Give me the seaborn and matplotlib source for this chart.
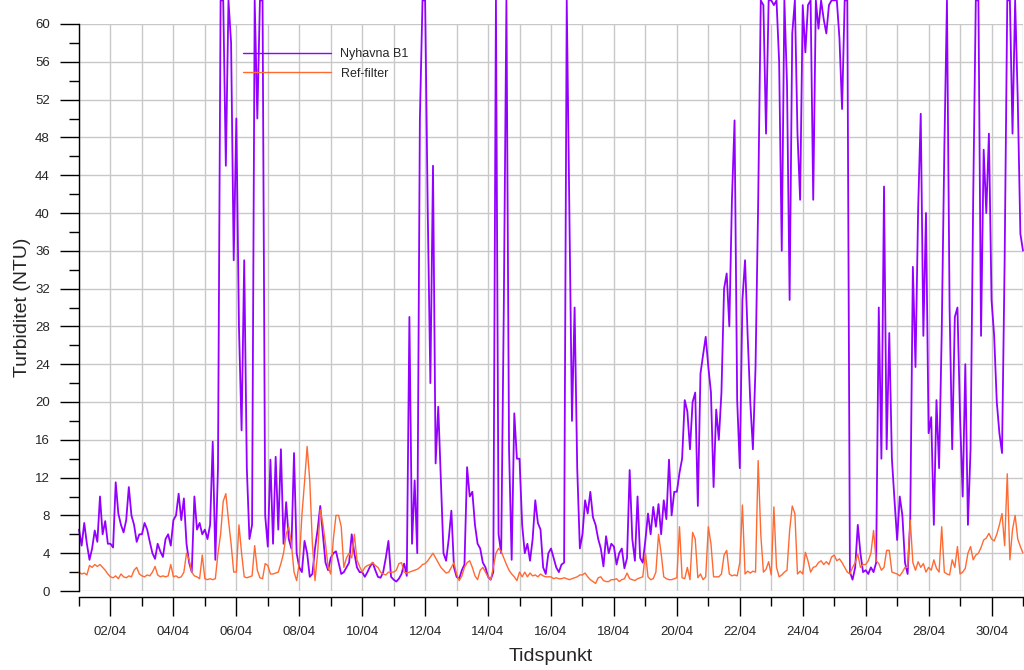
import matplotlib
matplotlib.use("Agg")
import matplotlib.pyplot as plt
import matplotlib.dates as mdates
import matplotlib.ticker as mticker
import pandas as pd
import seaborn as sns

# ---- data: 2-hourly readings, one list of 12 values per day (01/04 ... 30/04) ----
nyhavna_days = [
    [6.5, 4.8, 7.2, 5.0, 3.3, 4.5, 6.4, 5.2, 10.0, 6.0, 7.4, 5.0],
    [5.0, 4.6, 11.5, 8.2, 7.0, 6.2, 7.5, 11.0, 8.0, 7.0, 5.2, 6.0],
    [6.0, 7.2, 6.5, 5.2, 4.0, 3.4, 5.0, 4.2, 3.6, 5.5, 6.0, 4.8],
    [7.5, 8.0, 10.3, 7.5, 9.8, 5.0, 3.0, 2.0, 10.0, 6.5, 7.2, 6.0],
    [6.5, 5.5, 7.0, 15.8, 3.3, 13.0, 62.5, 62.5, 45.0, 62.5, 58.0, 35.0],
    [50.0, 28.0, 17.0, 35.0, 13.0, 5.5, 7.0, 62.5, 50.0, 62.5, 62.5, 8.0],
    [4.7, 13.9, 5.0, 14.2, 6.5, 15.0, 5.0, 9.4, 5.5, 4.5, 14.6, 4.0],
    [2.5, 2.0, 5.3, 4.0, 1.5, 1.8, 4.5, 6.5, 9.0, 6.0, 3.0, 2.2],
    [3.5, 4.0, 4.2, 3.0, 1.8, 2.0, 2.5, 3.0, 6.0, 4.0, 2.5, 2.0],
    [2.0, 1.5, 2.0, 2.6, 3.0, 2.2, 1.5, 1.4, 2.0, 3.5, 5.3, 1.5],
    [1.2, 1.0, 1.3, 1.8, 2.9, 1.6, 29.0, 5.0, 11.7, 4.0, 50.0, 62.5],
    [62.5, 40.0, 22.0, 45.0, 13.5, 19.5, 11.7, 4.0, 3.2, 5.5, 8.5, 2.5],
    [1.5, 1.3, 2.2, 2.8, 13.1, 10.0, 10.5, 7.0, 5.0, 4.5, 3.0, 2.5],
    [1.5, 1.2, 2.0, 62.5, 6.0, 4.0, 30.0, 62.5, 15.0, 3.3, 18.8, 14.0],
    [14.0, 7.0, 4.0, 5.0, 3.2, 5.5, 9.6, 7.2, 6.5, 2.5, 1.8, 4.0],
    [4.5, 3.5, 2.5, 2.0, 2.8, 3.0, 62.5, 40.0, 18.0, 30.0, 13.0, 4.5],
    [6.0, 9.6, 8.2, 10.5, 7.8, 7.0, 5.5, 4.5, 2.6, 5.8, 4.0, 5.0],
    [4.7, 2.8, 4.0, 4.5, 2.4, 3.5, 12.8, 5.5, 3.2, 10.0, 3.5, 3.0],
    [5.4, 8.2, 6.0, 8.9, 6.8, 9.2, 6.0, 9.6, 7.6, 13.9, 8.0, 10.5],
    [10.5, 12.5, 14.0, 20.2, 19.0, 15.0, 20.0, 21.0, 9.0, 23.0, 25.0, 26.9],
    [23.7, 21.0, 11.0, 19.2, 16.0, 21.0, 32.0, 33.6, 28.0, 41.4, 49.8, 20.2],
    [13.0, 30.8, 35.0, 27.0, 20.0, 15.0, 23.7, 41.0, 62.5, 62.0, 48.4, 62.5],
    [62.5, 62.0, 62.5, 56.0, 36.0, 62.5, 53.7, 30.8, 59.0, 62.5, 48.4, 41.4],
    [62.0, 57.0, 62.0, 62.5, 41.4, 62.5, 59.5, 62.5, 60.5, 59.0, 62.0, 62.5],
    [62.5, 62.5, 58.5, 51.0, 62.5, 62.5, 2.0, 1.2, 2.5, 7.0, 4.0, 2.0],
    [2.2, 1.8, 2.5, 2.0, 3.0, 30.0, 14.0, 42.8, 15.0, 27.3, 14.0, 9.6],
    [5.4, 10.0, 8.0, 3.0, 1.8, 7.5, 34.3, 23.7, 40.3, 50.5, 27.0, 40.0],
    [16.7, 18.4, 7.0, 20.2, 13.0, 27.3, 46.7, 62.5, 30.0, 15.0, 29.0, 30.0],
    [18.4, 10.0, 24.0, 7.0, 15.0, 41.4, 62.5, 62.5, 27.0, 46.7, 40.0, 48.4],
    [30.8, 27.0, 20.0, 16.7, 14.6, 35.0, 62.5, 62.5, 48.4, 62.5, 52.0, 37.8],
]
nyhavna_last = 36.0

ref_days = [
    [2.0, 1.8, 1.9, 1.7, 2.7, 2.5, 2.8, 2.6, 2.8, 2.5, 2.2, 1.8],
    [1.5, 1.4, 1.6, 1.3, 1.8, 1.5, 1.4, 1.6, 1.5, 2.2, 2.5, 1.8],
    [1.6, 1.5, 1.7, 1.6, 2.0, 2.6, 1.7, 1.5, 1.6, 1.5, 1.6, 2.8],
    [1.5, 1.6, 1.4, 1.5, 2.0, 4.0, 3.3, 2.0, 1.6, 1.5, 1.3, 3.8],
    [1.3, 1.2, 1.3, 1.2, 1.3, 4.0, 6.0, 9.5, 10.3, 7.5, 5.0, 2.0],
    [2.0, 7.0, 4.0, 1.5, 1.4, 1.5, 1.6, 4.8, 2.2, 1.4, 1.3, 2.9],
    [2.7, 1.8, 1.8, 1.9, 2.0, 2.9, 4.0, 6.0, 6.8, 5.0, 2.0, 1.1],
    [3.0, 8.0, 11.5, 15.3, 11.7, 5.0, 1.1, 4.0, 8.6, 7.1, 5.0, 2.5],
    [1.8, 5.5, 8.0, 8.0, 6.8, 2.5, 3.5, 4.0, 3.5, 6.0, 3.3, 2.6],
    [2.0, 2.5, 2.7, 2.8, 3.0, 2.7, 2.5, 2.0, 1.8, 1.7, 2.0, 2.0],
    [2.0, 2.2, 2.9, 3.0, 2.0, 1.9, 2.0, 2.1, 2.2, 2.3, 2.5, 2.8],
    [2.9, 3.2, 3.6, 4.0, 3.5, 3.0, 2.5, 2.2, 1.9, 2.0, 2.5, 3.0],
    [1.8, 1.1, 1.6, 2.5, 3.0, 3.2, 2.5, 1.6, 1.2, 2.2, 2.5, 2.0],
    [1.5, 1.2, 2.5, 4.0, 4.5, 4.2, 3.5, 2.8, 2.2, 1.8, 1.5, 1.1],
    [2.0, 1.5, 2.0, 1.5, 1.9, 1.6, 1.7, 1.5, 1.8, 1.6, 1.5, 1.5],
    [1.5, 1.3, 1.4, 1.3, 1.3, 1.4, 1.3, 1.2, 1.3, 1.4, 1.5, 1.7],
    [1.7, 1.9, 1.5, 1.2, 1.0, 0.8, 1.4, 1.5, 1.1, 1.0, 1.0, 1.2],
    [1.2, 1.3, 1.0, 1.2, 1.3, 1.9, 1.3, 1.2, 1.1, 1.3, 1.4, 1.5],
    [4.0, 1.5, 1.2, 1.3, 2.0, 6.0, 4.0, 1.5, 1.3, 1.2, 1.2, 1.3],
    [1.4, 6.8, 1.4, 1.3, 2.5, 1.2, 6.2, 5.5, 1.4, 1.8, 1.2, 1.5],
    [6.8, 5.0, 1.5, 1.5, 1.5, 1.8, 3.8, 4.3, 1.8, 1.6, 1.7, 1.6],
    [3.0, 9.1, 1.8, 2.1, 1.9, 2.1, 2.0, 13.8, 6.0, 2.0, 2.3, 3.1],
    [1.7, 8.9, 2.5, 1.5, 1.7, 2.0, 2.2, 6.4, 9.0, 8.2, 1.8, 2.1],
    [1.8, 4.1, 3.2, 2.0, 2.5, 2.6, 3.0, 3.2, 2.8, 3.1, 2.8, 3.6],
    [3.8, 3.2, 3.4, 3.0, 2.5, 2.0, 1.8, 2.5, 3.0, 3.9, 2.5, 2.8],
    [2.8, 3.2, 4.0, 6.4, 3.2, 2.9, 2.2, 2.5, 4.3, 4.3, 2.0, 1.9],
    [1.8, 1.6, 2.0, 2.5, 2.5, 7.5, 3.0, 2.2, 3.1, 2.5, 2.9, 2.0],
    [2.5, 2.2, 3.3, 2.4, 2.0, 6.8, 2.0, 1.8, 1.7, 3.3, 2.5, 4.7],
    [1.8, 2.0, 2.4, 4.0, 4.7, 3.3, 3.8, 4.0, 4.6, 5.4, 5.6, 6.1],
    [5.5, 5.3, 6.0, 7.0, 8.2, 4.8, 12.4, 3.3, 6.5, 8.0, 5.5, 4.7],
]
ref_last = 4.0

series_labels = ["Nyhavna B1", "Ref-filter"]
series_colors = ["#9400ff", "#ff6a33"]
start_time = "2013-04-01 00:00"
y_ticks = list(range(0, 61, 4))
x_label = "Tidspunkt"
y_label = "Turbiditet (NTU)"

# ---- build frame ----
nyhavna = [v for day in nyhavna_days for v in day] + [nyhavna_last]
ref = [v for day in ref_days for v in day] + [ref_last]
times = pd.date_range(start_time, periods=len(nyhavna), freq="2h")
df = pd.DataFrame({"Tidspunkt": times, series_labels[0]: nyhavna, series_labels[1]: ref})

sns.set_style("white")
plt.rcParams["font.family"] = ["Liberation Sans", "DejaVu Sans"]

fig = plt.figure(figsize=(10.24, 6.70), dpi=100)
ax = fig.add_axes([79 / 1024, 1 - 591 / 670, (1023 - 79) / 1024, (591 - 24) / 670])

sns.lineplot(data=df, x="Tidspunkt", y=series_labels[0], ax=ax, color=series_colors[0],
             lw=1.3, label=series_labels[0])
sns.lineplot(data=df, x="Tidspunkt", y=series_labels[1], ax=ax, color=series_colors[1],
             lw=1.0, label=series_labels[1])
for ln in ax.lines:
    ln.set_clip_on(False)

ax.set_xlim(times[0], times[-1])
ax.set_ylim(0, 60)

# y axis
ax.yaxis.set_major_locator(mticker.FixedLocator(y_ticks))
ax.yaxis.set_minor_locator(mticker.MultipleLocator(2))
ax.tick_params(axis="y", which="major", direction="out", length=14, width=1.0,
               color="black", pad=7, labelsize=9.5, left=True)
ax.tick_params(axis="y", which="minor", direction="out", length=7, width=1.0,
               color="black", left=True)

# x axis
ax.xaxis.set_major_locator(mdates.DayLocator(bymonthday=range(2, 31, 2)))
ax.xaxis.set_minor_locator(mdates.DayLocator())
ax.xaxis.set_major_formatter(mdates.DateFormatter("%d/%m"))
ax.tick_params(axis="x", which="major", direction="out", length=13.5, width=1.0,
               color="black", pad=8, labelsize=9.5, bottom=True)
ax.tick_params(axis="x", which="minor", direction="out", length=6.5, width=1.0,
               color="black", bottom=True)

for side in ["top", "right"]:
    ax.spines[side].set_visible(False)
for side in ["left", "bottom"]:
    ax.spines[side].set_color("black")
    ax.spines[side].set_linewidth(1.0)
ax.spines["bottom"].set_position(("outward", 4))

ax.set_axisbelow(True)
ax.yaxis.grid(True, which="major", color="#c8c8c8", lw=1.0)
ax.xaxis.grid(True, which="both", color="#c8c8c8", lw=1.0)

ax.set_xlabel(x_label, fontsize=14)
ax.set_ylabel(y_label, fontsize=14)
ax.xaxis.set_label_coords(0.5, -0.100)
ax.yaxis.set_label_coords(-0.051, 0.5)

leg = ax.legend(loc="upper left", bbox_to_anchor=((243 - 79) / 944, (591 - 48) / 567),
                frameon=False, fontsize=9, handlelength=7.0, handletextpad=0.8,
                labelspacing=0.62, borderpad=0, borderaxespad=0)
for h in leg.get_lines():
    h.set_linewidth(1.0)

fig.savefig("out.png", dpi=100)
